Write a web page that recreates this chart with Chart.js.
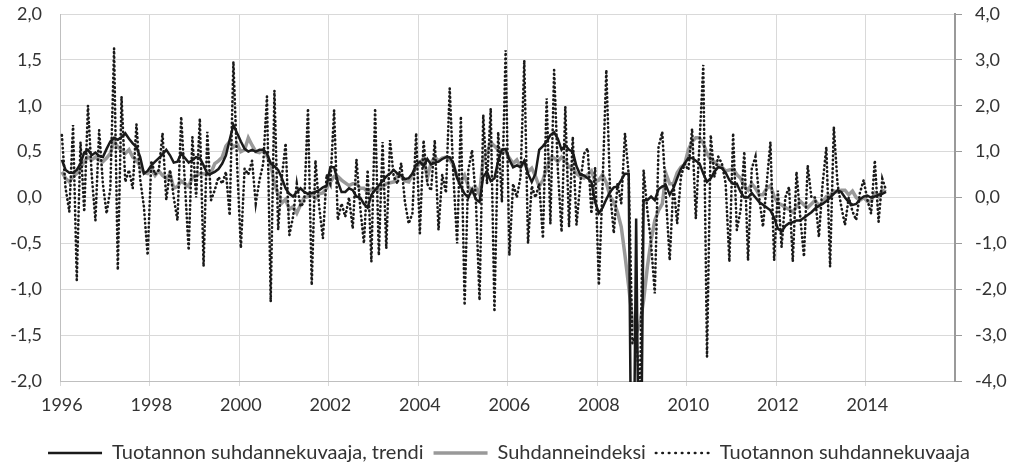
<!DOCTYPE html>
<html>
<head>
<meta charset="utf-8">
<script src="https://cdn.jsdelivr.net/npm/chart.js@4.4.1/dist/chart.umd.min.js"></script>
<style>
  html, body { margin: 0; padding: 0; background: #fff; }
  #chart { display: block; }
</style>
</head>
<body>
<canvas id="chart" width="1018" height="466"></canvas>
<script>
// years on the axis (monthly categories, Jan 1996 - Dec 2015)
const years = [1996, 1997, 1998, 1999, 2000, 2001, 2002, 2003, 2004, 2005,
               2006, 2007, 2008, 2009, 2010, 2011, 2012, 2013, 2014, 2015];
const yearLabels = ['1996', '1998', '2000', '2002', '2004', '2006', '2008', '2010', '2012', '2014'];

// Tuotannon suhdannekuvaaja, trendi (left axis), one row per year
const trend = [
  0.41, 0.30, 0.27, 0.27, 0.30, 0.37, 0.49, 0.52, 0.46, 0.49, 0.45, 0.44,
  0.53, 0.61, 0.65, 0.63, 0.66, 0.70, 0.64, 0.59, 0.55, 0.44, 0.26, 0.29,
  0.35, 0.39, 0.43, 0.47, 0.52, 0.46, 0.38, 0.39, 0.48, 0.43, 0.38, 0.41,
  0.44, 0.43, 0.35, 0.26, 0.26, 0.28, 0.31, 0.37, 0.46, 0.63, 0.79, 0.70,
  0.61, 0.53, 0.50, 0.52, 0.50, 0.52, 0.52, 0.48, 0.37, 0.34, 0.30, 0.21,
  0.10, 0.04, 0.01, 0.06, 0.10, 0.06, 0.04, 0.05, 0.06, 0.08, 0.11, 0.13,
  0.33, 0.33, 0.17, 0.06, 0.06, 0.10, 0.08, 0.01, 0.00, -0.07, -0.11, 0.03,
  0.08, 0.13, 0.18, 0.23, 0.26, 0.30, 0.26, 0.24, 0.20, 0.21, 0.26, 0.36,
  0.39, 0.34, 0.42, 0.36, 0.38, 0.39, 0.42, 0.44, 0.44, 0.37, 0.21, 0.12,
  0.04, 0.00, 0.09, -0.02, -0.05, 0.23, 0.28, 0.18, 0.21, 0.40, 0.52, 0.53,
  0.41, 0.33, 0.35, 0.33, 0.40, 0.26, 0.17, 0.26, 0.52, 0.56, 0.61, 0.68,
  0.71, 0.64, 0.52, 0.57, 0.52, 0.50, 0.34, 0.25, 0.24, 0.21, 0.17, -0.05,
  -0.17, -0.11, -0.02, 0.06, 0.11, 0.12, 0.19, 0.26, 0.26, -4.6, -0.23, -4.3,
  -0.03, -0.03, 0.01, -0.03, 0.09, 0.12, 0.13, 0.03, 0.10, 0.21, 0.31, 0.37,
  0.43, 0.43, 0.40, 0.37, 0.26, 0.17, 0.21, 0.28, 0.33, 0.32, 0.27, 0.19,
  0.15, 0.15, 0.06, 0.00, 0.00, 0.05, 0.00, -0.05, -0.08, -0.11, -0.14, -0.22,
  -0.34, -0.37, -0.31, -0.28, -0.27, -0.25, -0.25, -0.22, -0.19, -0.16, -0.12, -0.09,
  -0.07, -0.04, 0.00, 0.04, 0.08, 0.06, 0.00, -0.05, -0.08, -0.07, -0.02, 0.01,
  0.02, 0.00, 0.01, 0.03, 0.04, 0.06
];

// Suhdanneindeksi (left axis)
const index = [
  0.28, 0.21, 0.17, 0.23, 0.26, 0.32, 0.39, 0.44, 0.41, 0.44, 0.41, 0.39,
  0.43, 0.48, 0.62, 0.55, 0.52, 0.48, 0.52, 0.44, 0.41, 0.34, 0.27, 0.26,
  0.31, 0.24, 0.29, 0.24, 0.21, 0.26, 0.10, 0.12, 0.18, 0.15, 0.12, 0.22,
  0.24, 0.26, 0.26, 0.25, 0.27, 0.37, 0.40, 0.44, 0.56, 0.61, 0.55, 0.58,
  0.50, 0.52, 0.65, 0.57, 0.50, 0.49, 0.52, 0.45, 0.37, 0.15, 0.03, -0.06,
  -0.02, -0.13, -0.10, -0.17, -0.08, 0.00, 0.01, 0.03, -0.01, 0.04, 0.05, 0.10,
  0.17, 0.23, 0.23, 0.19, 0.16, 0.13, 0.15, 0.15, 0.10, 0.10, 0.06, 0.09,
  0.09, 0.08, 0.12, 0.15, 0.16, 0.17, 0.24, 0.23, 0.18, 0.17, 0.25, 0.33,
  0.37, 0.43, 0.21, 0.38, 0.44, 0.40, 0.43, 0.44, 0.41, 0.35, 0.23, 0.17,
  0.24, 0.12, 0.06, 0.11, 0.03, 0.43, 0.49, 0.60, 0.56, 0.52, 0.52, 0.50,
  0.43, 0.37, 0.41, 0.33, 0.39, 0.28, 0.32, 0.23, 0.12, 0.19, 0.32, 0.43,
  0.43, 0.39, 0.44, 0.40, 0.33, 0.32, 0.26, 0.23, 0.21, 0.25, 0.29, 0.17,
  0.19, 0.25, 0.16, 0.01, -0.05, -0.16, -0.32, -0.63, -0.97, -1.34, -1.48, -1.38,
  -1.12, -0.76, -0.47, -0.25, -0.14, -0.07, 0.26, 0.15, 0.15, 0.27, 0.33, 0.36,
  0.52, 0.61, 0.65, 0.65, 0.59, 0.48, 0.41, 0.39, 0.35, 0.33, 0.29, 0.30,
  0.31, 0.25, 0.21, 0.12, 0.08, 0.15, 0.10, 0.03, 0.03, 0.10, 0.13, 0.01,
  -0.06, -0.08, -0.11, -0.13, -0.16, -0.10, -0.04, -0.08, -0.11, -0.07, -0.03, -0.09,
  -0.05, 0.01, 0.02, 0.07, 0.06, 0.08, 0.08, 0.03, 0.07, 0.00, -0.03, 0.00,
  -0.04, -0.04, 0.05, 0.01, 0.08, 0.06
];

// Tuotannon suhdannekuvaaja (right axis)
const production = [
  1.36, 0.2, -0.31, 1.58, -1.8, 1.21, -0.31, 2.0, 0.5, -0.5, 1.47, 0.3,
  -0.35, 0.2, 3.25, -1.58, 2.2, 0.34, 0.6, 0.2, 1.6, 0.4, -0.2, -1.26,
  0.8, 0.5, 0.6, 1.4, -0.06, 0.6, 0.0, -0.5, 1.76, 0.3, -1.15, 1.32,
  0.0, 1.72, -1.5, 1.43, -0.06, 0.16, 0.45, 0.3, 0.56, -0.39, 2.96, 0.7,
  -1.1, 0.63, 0.5, 0.8, -0.13, 0.38, 0.74, 2.2, -2.27, 2.33, -0.71, 0.45,
  1.18, -0.82, -0.42, 0.3, -0.2, -0.1, 1.94, -1.91, 0.81, -0.2, -0.89, 0.5,
  0.3, 1.9, -0.49, -0.13, -0.42, 0.0, -0.68, 0.83, -0.2, -1.0, 0.6, -1.4,
  1.94, -1.26, 1.21, -1.11, 1.25, 0.45, 0.3, 0.75, -0.1, -0.57, -0.35, 1.4,
  -0.78, 1.25, 0.3, 0.15, 1.25, -0.71, 0.5, 0.1, 2.38, 0.45, -1.0, 1.77,
  -2.35, 0.6, 1.03, 0.0, -2.24, 1.8, 0.3, 1.94, -2.49, 1.43, -0.1, 3.21,
  -1.26, 0.3, 0.0, 0.45, 2.99, -1.0, 0.25, 0.0, 0.3, -0.89, 2.16, -0.57,
  2.78, 0.6, -0.75, 1.98, -0.64, 1.32, -0.6, 0.3, 0.95, 1.07, -0.35, 0.65,
  -1.91, 0.3, 2.78, 0.15, -0.78, 0.3, -0.13, 1.4, 0.5, -3.18, -2.96, -4.3,
  0.6, -0.28, -1.0, -2.09, 1.1, 1.43, 0.0, -1.37, 0.3, -0.57, 0.45, 0.74,
  0.6, 1.5, -0.46, 1.2, 2.89, -3.47, 1.36, 0.45, 0.89, 0.74, 0.3, -1.4,
  1.4, -0.71, -0.28, 1.0, -1.37, 0.63, 0.89, 0.0, -0.64, 0.3, 1.21, -1.37,
  0.15, -1.08, 0.0, 0.23, -1.4, 0.56, -0.42, -1.29, 0.7, 0.0, 0.0, -0.86,
  0.3, 1.1, -1.51, 1.54, 0.3, -0.2, -0.6, 0.0, -0.3, -0.49, 0.1, 0.38,
  -0.05, -0.35, 0.81, -0.53, 0.41, 0.16
];

const months = [];
years.forEach(y => {
  for (let m = 1; m <= 12; m++) months.push(y + '-' + m);
});

const FONT = 'Lato, "DejaVu Sans", sans-serif';
const TEXT = '#333333';
const GRID = '#d9d9d9';

const fmt = v => v.toFixed(1).replace('.', ',');

// legend samples take the line style of the dataset, not of its points
const legendLabels = chart =>
  Chart.defaults.plugins.legend.labels.generateLabels(chart).map(item => {
    const ds = chart.data.datasets[item.datasetIndex];
    item.strokeStyle = ds.borderColor;
    item.fillStyle = ds.borderColor;
    item.lineWidth = ds.borderWidth;
    item.lineDash = ds.borderDash ? [0.5, 6] : [];
    item.lineCap = ds.borderCapStyle || 'butt';
    return item;
  });

// fixed axis width; keep the label padding from pushing the plot top down
const fixY = w => s => {
  s.width = w;
  s.paddingTop = 14;
  s.paddingBottom = 0;
};

new Chart(document.getElementById('chart'), {
  type: 'line',
  data: {
    labels: months,
    datasets: [
      {
        label: 'Tuotannon suhdannekuvaaja, trendi',
        data: trend,
        yAxisID: 'y',
        borderColor: '#1a1a1a',
        borderWidth: 2.5,
        pointRadius: 0,
        order: 1,
        clip: 1
      },
      {
        label: 'Suhdanneindeksi',
        data: index,
        yAxisID: 'y',
        borderColor: '#999999',
        borderWidth: 3.5,
        pointRadius: 0,
        order: 2
      },
      {
        label: 'Tuotannon suhdannekuvaaja',
        data: production,
        yAxisID: 'y1',
        borderColor: '#1a1a1a',
        borderWidth: 2.6,
        borderDash: [0.5, 3.8],
        borderCapStyle: 'round',
        pointRadius: 0,
        order: 0,
        clip: 1
      }
    ]
  },
  options: {
    responsive: false,
    animation: false,
    devicePixelRatio: 1,
    layout: {
      padding: { top: 0, right: 0, bottom: -7, left: 0 }
    },
    scales: {
      x: {
        type: 'category',
        offset: true,
        grid: {
          offset: true,
          color: ctx => ctx.index % 24 === 0 ? GRID : 'rgba(0,0,0,0)',
          tickLength: 5
        },
        border: { color: '#bfbfbf' },
        ticks: {
          autoSkip: false,
          maxRotation: 0,
          minRotation: 0,
          padding: 8,
          color: TEXT,
          font: { family: FONT, size: 18 },
          callback: (v, i) => i % 24 === 0 ? yearLabels[i / 24] : ''
        },
        afterFit: s => { s.height = 52; }
      },
      y: {
        position: 'left',
        min: -2,
        max: 2,
        grid: { color: GRID, drawTicks: false },
        border: { color: '#bfbfbf' },
        ticks: {
          stepSize: 0.5,
          padding: 18,
          color: TEXT,
          font: { family: FONT, size: 18 },
          callback: v => fmt(v)
        },
        afterFit: fixY(60)
      },
      y1: {
        position: 'right',
        min: -4,
        max: 4,
        grid: { drawOnChartArea: false, color: '#9a9a9a', tickLength: 7 },
        border: { color: '#9a9a9a', width: 2 },
        ticks: {
          stepSize: 1,
          padding: 13,
          color: TEXT,
          font: { family: FONT, size: 18 },
          callback: v => fmt(v)
        },
        afterFit: fixY(63)
      }
    },
    plugins: {
      tooltip: { enabled: false },
      legend: {
        display: true,
        position: 'bottom',
        labels: {
          usePointStyle: true,
          pointStyle: 'line',
          pointStyleWidth: 54,
          padding: 10,
          color: TEXT,
          font: { family: FONT, size: 20 },
          generateLabels: legendLabels,
          sort: (a, b) => a.datasetIndex - b.datasetIndex
        }
      }
    }
  }
});
</script>
</body>
</html>
